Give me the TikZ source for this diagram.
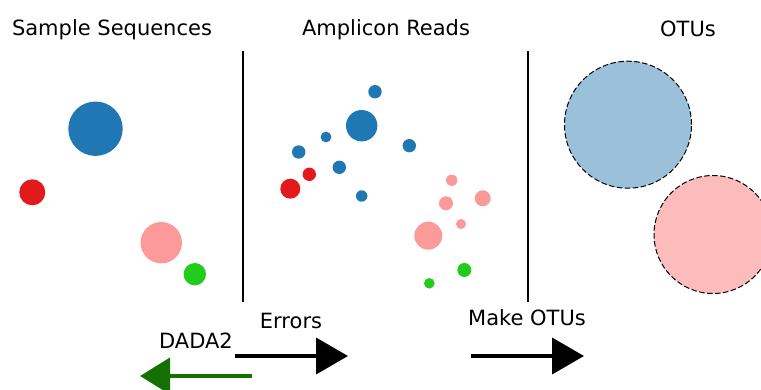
\documentclass[tikz,border=0pt]{standalone}
\usepackage{fontspec}
\setmainfont{DejaVu Sans}
\usetikzlibrary{arrows.meta}
\definecolor{seqblue}{RGB}{31,119,180}
\definecolor{seqred}{RGB}{227,26,28}
\definecolor{seqpink}{RGB}{251,154,153}
\definecolor{seqgreen}{RGB}{34,204,26}
\definecolor{otublue}{RGB}{155,192,218}
\definecolor{otupink}{RGB}{252,188,187}
\definecolor{dadagreen}{RGB}{20,112,0}
\tikzset{
  dot/.style={circle, inner sep=0pt, draw=none, fill=#1},
  otu/.style={circle, inner sep=0pt, fill=#1, draw=black, line width=1pt, dash pattern=on 5.5pt off 2.5pt},
  title/.style={font=\fontsize{21}{25}\selectfont, inner sep=0pt, anchor=base},
  label/.style={font=\fontsize{21}{25}\selectfont, inner sep=0pt, anchor=base},
  divider/.style={line width=2pt, black},
  flow/.style={line width=4pt, -{Triangle[length=32pt,width=36pt]}},
}
\begin{document}
\begin{tikzpicture}[x=1pt, y=-1pt]
\useasboundingbox (0,0) rectangle (761,389);

% panel titles
\node[title] (t1) at (112,35) {Sample Sequences};
\node[title] (t2) at (386,35) {Amplicon Reads};
\node[title] (t3) at (688,36) {OTUs};

% dividers
\coordinate (d1a) at (243,51); \coordinate (d1b) at (243,302);
\coordinate (d2a) at (528,51); \coordinate (d2b) at (528,302);
\draw[divider] (d1a) -- (d1b);
\draw[divider] (d2a) -- (d2b);

% sample sequences
\node[dot=seqblue, minimum size=54.4pt] (s1) at (95.5,128.7) {};
\node[dot=seqred, minimum size=26pt] (s2) at (32.3,192.3) {};
\node[dot=seqpink, minimum size=41.4pt] (s3) at (161.3,242.7) {};
\node[dot=seqgreen, minimum size=22.4pt] (s4) at (194.8,274.2) {};

% amplicon reads
\node[dot=seqblue, minimum size=13.4pt] (r1) at (375,91.7) {};
\node[dot=seqblue, minimum size=31.4pt] (r2) at (361.7,125.7) {};
\node[dot=seqblue, minimum size=10.8pt] (r3) at (326,137) {};
\node[dot=seqblue, minimum size=13.4pt] (r4) at (298.7,152) {};
\node[dot=seqblue, minimum size=13.4pt] (r5) at (409.3,145.7) {};
\node[dot=seqblue, minimum size=13.4pt] (r6) at (339.3,167.3) {};
\node[dot=seqred, minimum size=13.4pt] (r7) at (309.3,174.3) {};
\node[dot=seqred, minimum size=20pt] (r8) at (290.3,188.7) {};
\node[dot=seqblue, minimum size=11.4pt] (r9) at (361.7,196) {};
\node[dot=seqpink, minimum size=11.4pt] (r10) at (451.7,180.3) {};
\node[dot=seqpink, minimum size=14pt] (r11) at (446,203.3) {};
\node[dot=seqpink, minimum size=16pt] (r12) at (482.7,198.3) {};
\node[dot=seqpink, minimum size=10pt] (r13) at (461,224) {};
\node[dot=seqpink, minimum size=28pt] (r14) at (428.3,235.7) {};
\node[dot=seqgreen, minimum size=14pt] (r15) at (464.3,270) {};
\node[dot=seqgreen, minimum size=10.6pt] (r16) at (429.3,283.3) {};

% OTUs
\node[otu=otublue, minimum size=127pt] (o1) at (628,124.7) {};
\node[otu=otupink, minimum size=118pt] (o2) at (713,234.5) {};

% process arrows
\node[label] (errlbl) at (291,328) {Errors};
\node[label] (dadalbl) at (196,348) {DADA2};
\node[label] (otulbl) at (527,325) {Make OTUs};

\coordinate (e0) at (235,356); \coordinate (e1) at (348,356);
\coordinate (m0) at (471,356); \coordinate (m1) at (584,356);
\coordinate (g0) at (252,376); \coordinate (g1) at (140,376);
\draw[flow] (e0) -- (e1);
\draw[flow] (m0) -- (m1);
\draw[flow, dadagreen, -{Triangle[length=30pt,width=36pt]}] (g0) -- (g1);
\end{tikzpicture}
\end{document}
